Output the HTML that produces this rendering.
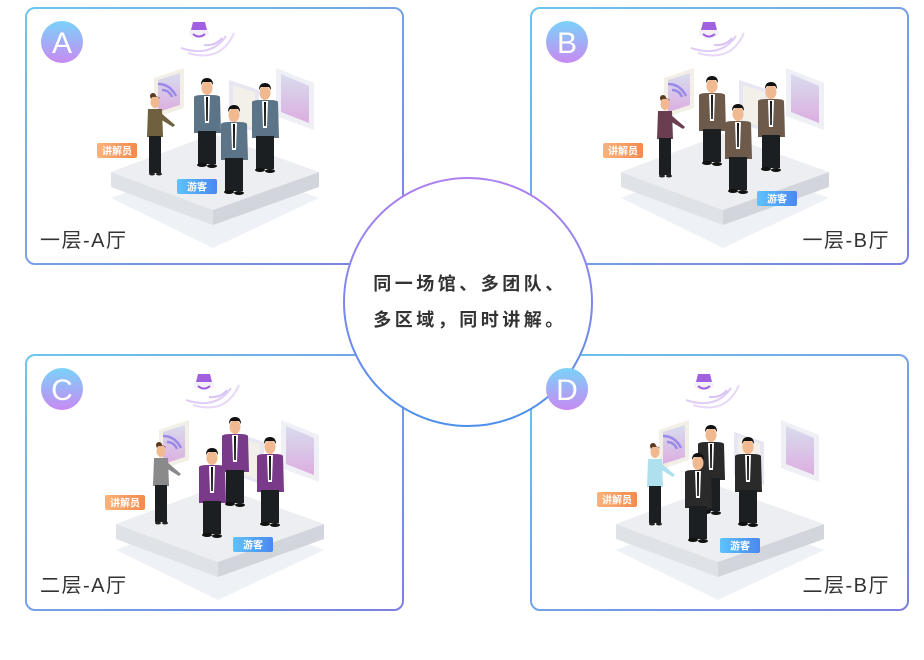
<!DOCTYPE html>
<html><head><meta charset="utf-8"><style>
html,body{margin:0;padding:0;background:#fff;}
body{width:924px;height:655px;overflow:hidden;font-family:"Liberation Sans","Noto Sans CJK SC",sans-serif;}
</style></head><body>
<svg width="924" height="655" viewBox="0 0 924 655" xmlns="http://www.w3.org/2000/svg" font-family="Liberation Sans, Noto Sans CJK SC, sans-serif">
<defs>
<linearGradient id="bd" x1="0" y1="0" x2="1" y2="1"><stop offset="0" stop-color="#6cc6ec"/><stop offset="1" stop-color="#7b7fe0"/></linearGradient>
<linearGradient id="cb" x1="0" y1="0" x2="0" y2="1"><stop offset="0" stop-color="#b080f0"/><stop offset="1" stop-color="#4a90ea"/></linearGradient>
<linearGradient id="lb" x1="0" y1="0" x2="0" y2="1"><stop offset="0" stop-color="#7ad2fa"/><stop offset="1" stop-color="#c88af2"/></linearGradient>
<linearGradient id="scr" x1="0" y1="0" x2="0" y2="1"><stop offset="0" stop-color="#d8dcee"/><stop offset="1" stop-color="#dcaee0"/></linearGradient>
<linearGradient id="or" x1="0" y1="0" x2="1" y2="0"><stop offset="0" stop-color="#fbb27a"/><stop offset="1" stop-color="#f48a4e"/></linearGradient>
<linearGradient id="bl" x1="0" y1="0" x2="1" y2="0"><stop offset="0" stop-color="#5ec2fb"/><stop offset="1" stop-color="#4a88f0"/></linearGradient>
<g id="man">
<ellipse cx="0" cy="9" rx="5.5" ry="7" fill="#f1b98f"/>
<path d="M-6,6 Q-6,-1 0,-1 Q6,-1 6,6 L4,3 L-4,3 Z" fill="#111"/>
<path d="M-13,18 Q-12,16 -4,16 L4,16 Q12,16 13,18 L14,54 L-13,54 Z" fill="currentColor"/>
<path d="M-3,17 L3,17 L2,44 L-2,44 Z" fill="#fff"/>
<path d="M-1,18 L1,18 L0.8,42 L-0.8,42 Z" fill="#111"/>
<rect x="-9" y="52" width="18" height="33" fill="#1b1f22"/>
<ellipse cx="-5" cy="86" rx="5" ry="2" fill="#111"/><ellipse cx="5" cy="87" rx="5" ry="2" fill="#111"/>
</g>
<g id="woman">
<circle cx="-2" cy="3" r="3" fill="#5a3a20"/>
<ellipse cx="0" cy="9" rx="4.5" ry="6" fill="#f1b98f"/>
<path d="M-5,6 Q0,0 5,6 L4,4 L-4,4Z" fill="#5a3a20"/>
<path d="M-7,16 L7,16 L8,44 L-8,44 Z" fill="currentColor"/>
<path d="M6,20 L20,32 L18,34 L5,26Z" fill="currentColor"/>
<rect x="-6" y="43" width="12" height="37" fill="#1b1f22"/>
<ellipse cx="-3" cy="81" rx="3" ry="1.5" fill="#222"/><ellipse cx="4" cy="81" rx="3" ry="1.5" fill="#222"/>
</g>
<g id="scene">
<path d="M85,190 L187,150 L293,190 L187,240 Z" fill="#eef2f7"/>
<path d="M85,164 L85,179 L187,217 L187,202 Z" fill="#dfe3e8"/>
<path d="M187,202 L187,217 L293,179 L293,164 Z" fill="#d2d6dc"/>
<path d="M85,164 L187,126 L293,164 L187,202 Z" fill="#eceef1"/>
<path d="M128,70 L158,60 L158,100 L128,110Z" fill="#f1efe6"/><path d="M132,72 L154,65 L154,97 L132,104Z" fill="url(#scr)"/>
<path d="M203,72 L233,82 L233,125 L203,115Z" fill="#e8e6f2"/><path d="M207,77 L229,84 L229,120 L207,113Z" fill="#f2f0e8"/>
<path d="M250,60 L288,75 L288,122 L250,108Z" fill="#eef0f6"/><path d="M255,66 L283,78 L283,115 L255,104Z" fill="url(#scr)"/>
<path d="M132,76 Q144,76 150,88" stroke="#9a8ae8" stroke-width="2.5" fill="none"/>
<path d="M136,82 Q143,82 146,89" stroke="#9a8ae8" stroke-width="2.5" fill="none"/>
<ellipse cx="173" cy="25" rx="10" ry="5" fill="#f4f0f8"/>
<path d="M167,14 L179,14 L181,22 L165,22Z" fill="#a060e0"/>
<path d="M167,26 Q173,31 179,26" stroke="#a060e0" stroke-width="2" fill="none"/>
<path d="M155,40 Q185,50 200,28" stroke="#e0cdf6" stroke-width="2" fill="none"/>
<path d="M162,45 Q195,55 208,25" stroke="#e8d8f8" stroke-width="2" fill="none"/>
<path d="M178,37 Q190,38 196,30" stroke="#d8c4f4" stroke-width="2" fill="none"/>
</g>
</defs>

<rect x="26" y="8" width="377" height="256" rx="9" fill="#fff" stroke="url(#bd)" stroke-width="2"/>
<rect x="531" y="8" width="377" height="256" rx="9" fill="#fff" stroke="url(#bd)" stroke-width="2"/>
<rect x="26" y="355" width="377" height="255" rx="9" fill="#fff" stroke="url(#bd)" stroke-width="2"/>
<rect x="531" y="355" width="377" height="255" rx="9" fill="#fff" stroke="url(#bd)" stroke-width="2"/>

<g transform="translate(26,8)">
<use href="#scene"/>
<use href="#woman" x="129" y="85" color="#6f6040"/>
<use href="#man" x="181" y="71" color="#5b7488"/>
<use href="#man" x="239" y="76" color="#5b7488"/>
<use href="#man" x="208" y="98" color="#5b7488"/>
<rect x="71" y="135" width="40" height="15" rx="2" fill="url(#or)"/><text x="91" y="146.5" font-size="10" fill="#fff" text-anchor="middle" font-weight="bold">讲解员</text>
<rect x="151" y="171" width="40" height="15" rx="2" fill="url(#bl)"/><text x="171" y="182.5" font-size="10" fill="#fff" text-anchor="middle" font-weight="bold">游客</text>
<circle cx="36" cy="34" r="21" fill="url(#lb)"/><text x="36" y="45" font-size="30" fill="#fff" text-anchor="middle">A</text>
<text x="14" y="239" font-size="20" fill="#333" letter-spacing="1.5">一层-A厅</text>
</g>
<g transform="translate(531,8)">
<use href="#scene" x="5" y="0"/>
<use href="#woman" x="134" y="87" color="#6a3e50"/>
<use href="#man" x="181" y="69" color="#6e5a4a"/>
<use href="#man" x="240" y="75" color="#6e5a4a"/>
<use href="#man" x="207" y="97" color="#6e5a4a"/>
<rect x="72" y="135" width="40" height="15" rx="2" fill="url(#or)"/><text x="92" y="146.5" font-size="10" fill="#fff" text-anchor="middle" font-weight="bold">讲解员</text>
<rect x="226" y="183" width="40" height="15" rx="2" fill="url(#bl)"/><text x="246" y="194.5" font-size="10" fill="#fff" text-anchor="middle" font-weight="bold">游客</text>
<circle cx="36" cy="34" r="21" fill="url(#lb)"/><text x="36" y="45" font-size="30" fill="#fff" text-anchor="middle">B</text>
<text x="359" y="239" font-size="20" fill="#333" text-anchor="end" letter-spacing="1.5">一层-B厅</text>
</g>
<g transform="translate(26,355)">
<use href="#scene" x="5" y="5"/>
<use href="#woman" x="135" y="87" color="#8a8a8a"/>
<use href="#man" x="209" y="63" color="#7a3a8a"/>
<use href="#man" x="244" y="83" color="#7a3a8a"/>
<use href="#man" x="186" y="94" color="#7a3a8a"/>
<rect x="79" y="140" width="40" height="15" rx="2" fill="url(#or)"/><text x="99" y="151.5" font-size="10" fill="#fff" text-anchor="middle" font-weight="bold">讲解员</text>
<rect x="207" y="182" width="40" height="15" rx="2" fill="url(#bl)"/><text x="227" y="193.5" font-size="10" fill="#fff" text-anchor="middle" font-weight="bold">游客</text>
<circle cx="36" cy="34" r="21" fill="url(#lb)"/><text x="36" y="45" font-size="30" fill="#fff" text-anchor="middle">C</text>
<text x="14" y="237" font-size="20" fill="#333" letter-spacing="1.5">二层-A厅</text>
</g>
<g transform="translate(531,355)">
<use href="#scene" x="0" y="5"/>
<use href="#woman" x="124" y="88" color="#aee0ee"/>
<use href="#man" x="180" y="71" color="#2a2a2a"/>
<use href="#man" x="217" y="83" color="#2a2a2a"/>
<use href="#man" x="167" y="99" color="#2a2a2a"/>
<rect x="66" y="137" width="40" height="15" rx="2" fill="url(#or)"/><text x="86" y="148.5" font-size="10" fill="#fff" text-anchor="middle" font-weight="bold">讲解员</text>
<rect x="189" y="183" width="40" height="15" rx="2" fill="url(#bl)"/><text x="209" y="194.5" font-size="10" fill="#fff" text-anchor="middle" font-weight="bold">游客</text>
<circle cx="36" cy="34" r="21" fill="url(#lb)"/><text x="36" y="45" font-size="30" fill="#fff" text-anchor="middle">D</text>
<text x="359" y="237" font-size="20" fill="#333" text-anchor="end" letter-spacing="1.5">二层-B厅</text>
</g>

<circle cx="468" cy="302" r="124" fill="#fff" stroke="url(#cb)" stroke-width="2"/>
<circle cx="567" cy="389" r="21" fill="url(#lb)"/><text x="567" y="400" font-size="30" fill="#fff" text-anchor="middle">D</text>
<text x="470" y="290" font-size="18" fill="#333" text-anchor="middle" letter-spacing="3.5" font-weight="bold">同一场馆、多团队、</text>
<text x="470" y="326" font-size="18" fill="#333" text-anchor="middle" letter-spacing="3.5" font-weight="bold">多区域，同时讲解。</text>
</svg>
</body></html>
